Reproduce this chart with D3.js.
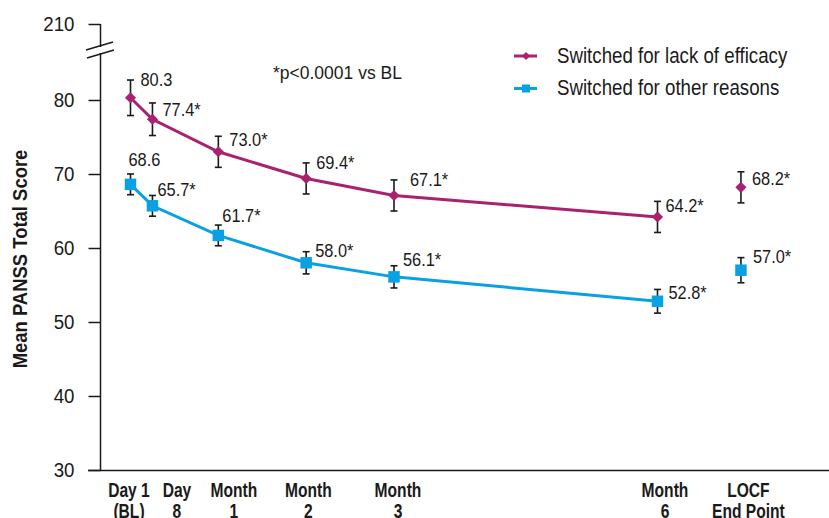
<!doctype html>
<html>
<head>
<meta charset="UTF-8">
<title>PANSS total score</title>
<script src="https://d3js.org/d3.v7.min.js"></script>
<style>
    body { margin: 0; background: #fff; }
    text { font-family: "Liberation Sans", Arial, sans-serif; fill: #1a1a1a; }
</style>
</head>
<body>
<svg width="829" height="518"></svg>
<script>
// data
var visits = [["Day 1", "(BL)"], ["Day", "8"], ["Month", "1"], ["Month", "2"], ["Month", "3"], ["Month", "6"], ["LOCF", "End Point"]];
var visitWeek = [0, 1, 4, 8, 12, 24, 27.8];
var efficacy = [80.3, 77.4, 73.0, 69.4, 67.1, 64.2, 68.2];
var efficacyErr = [2.4, 2.2, 2.1, 2.1, 2.1, 2.1, 2.1];
var other = [68.6, 65.7, 61.7, 58.0, 56.1, 52.8, 57.0];
var otherErr = [1.4, 1.4, 1.4, 1.5, 1.5, 1.6, 1.7];
var starred = [false, true, true, true, true, true, true];
var yTicks = [30, 40, 50, 60, 70, 80];
var yTopTick = [210];
var seriesNames = ["Switched for lack of efficacy", "Switched for other reasons"];

// layout
var purple = "#aa226f", blue = "#0aa1e2";
var effOff = [[10, -12], [10, -3], [11, -6], [10, -9], [16, -9], [8, -5], [11, -2]];
var othOff = [[-2, -18], [5, -10], [4, -13], [9, -6], [9, -11], [11, -2], [12, -7]];
var xLabelShift = [-1.5, 24.5, 15.6, 2.3, 4, 7.5, 7.5];

// the original uses a condensed face; squeeze Liberation Sans horizontally
function squeeze(sel, k) {
    sel.each(function () {
        var t = d3.select(this);
        var x0 = +t.attr("x") || 0, y0 = +t.attr("y") || 0;
        t.attr("transform", "translate(" + x0 + "," + y0 + ") scale(" + k + ",1) translate(" + (-x0) + "," + (-y0) + ")");
    });
}

var svg = d3.select("svg");
var x = d3.scaleLinear().domain([0, 24]).range([130.5, 657.5]);
var y = d3.scaleLinear().domain([30, 80]).range([470, 100]);
var yTop = d3.scaleLinear().domain([205, 210]).range([60, 24]);

// y axis
var gy = svg.append("g").attr("transform", "translate(100.5,0)")
    .call(d3.axisLeft(y).tickValues(yTicks).tickSize(12).tickPadding(14).tickSizeOuter(0));
gy.select(".domain").remove();
var gy2 = svg.append("g").attr("transform", "translate(100.5,0)")
    .call(d3.axisLeft(yTop).tickValues(yTopTick).tickFormat(d3.format("d")).tickSize(12).tickPadding(14).tickSizeOuter(0));
gy2.select(".domain").remove();
svg.selectAll(".tick line").attr("stroke", "#1a1a1a").attr("stroke-width", 1.5);
svg.selectAll(".tick text").style("font-size", "21px").attr("fill", "#1a1a1a")
    .style("font-family", "'Liberation Sans', Arial, sans-serif");
squeeze(svg.selectAll(".tick text"), 0.89);

// axis line with a break
svg.append("line").attr("x1", 100.5).attr("x2", 100.5).attr("y1", y(30)).attr("y2", 53)
    .attr("stroke", "#1a1a1a").attr("stroke-width", 1.5);
svg.append("line").attr("x1", 100.5).attr("x2", 100.5).attr("y1", 47).attr("y2", yTop(210))
    .attr("stroke", "#1a1a1a").attr("stroke-width", 1.5);
[[86, 50, 113, 42], [87, 58, 114, 50]].forEach(function (s) {
    svg.append("line").attr("x1", s[0]).attr("y1", s[1]).attr("x2", s[2]).attr("y2", s[3])
        .attr("stroke", "#1a1a1a").attr("stroke-width", 1.5);
});

// x axis line
svg.append("line").attr("x1", 88).attr("x2", 829).attr("y1", y(30) + 0.5).attr("y2", y(30) + 0.5)
    .attr("stroke", "#1a1a1a").attr("stroke-width", 1.5);

// x labels
visits.forEach(function (v, i) {
    var lx = x(visitWeek[i]) + xLabelShift[i];
    var t = svg.append("text").attr("text-anchor", "middle")
        .attr("x", lx).attr("y", 497)
        .style("font-size", "20px").style("font-weight", "bold");
    t.append("tspan").attr("x", lx).text(v[0]);
    t.append("tspan").attr("x", lx).attr("dy", 21).text(v[1]);
    squeeze(t, 0.78);
});

// y title
svg.append("text").attr("transform", "translate(27,259) rotate(-90) scale(0.9,1)")
    .attr("text-anchor", "middle").style("font-size", "20.5px").style("font-weight", "bold")
    .text("Mean PANSS Total Score");

// series
var series = [
    { vals: efficacy, err: efficacyErr, color: purple, off: effOff, shape: "diamond" },
    { vals: other, err: otherErr, color: blue, off: othOff, shape: "square" }
];
var line = d3.line().x(function (d, i) { return x(visitWeek[i]); }).y(function (d) { return y(d); });
var diamond = d3.symbol().type(d3.symbolSquare).size(62);
var square = d3.symbol().type(d3.symbolSquare).size(132);

series.forEach(function (s) {
    svg.append("path").datum(s.vals.slice(0, 6)).attr("d", line)
        .attr("fill", "none").attr("stroke", s.color).attr("stroke-width", 3);
    s.vals.forEach(function (v, i) {
        var cx = x(visitWeek[i]);
        var g = svg.append("g").attr("stroke", "#1a1a1a").attr("stroke-width", 1.6);
        g.append("line").attr("x1", cx).attr("x2", cx).attr("y1", y(v - s.err[i])).attr("y2", y(v + s.err[i]));
        g.append("line").attr("x1", cx - 3.5).attr("x2", cx + 3.5).attr("y1", y(v - s.err[i])).attr("y2", y(v - s.err[i]));
        g.append("line").attr("x1", cx - 3.5).attr("x2", cx + 3.5).attr("y1", y(v + s.err[i])).attr("y2", y(v + s.err[i]));
        svg.append("path")
            .attr("d", s.shape === "diamond" ? diamond() : square())
            .attr("transform", "translate(" + cx + "," + y(v) + ")" + (s.shape === "diamond" ? " rotate(45)" : ""))
            .attr("fill", s.color);
        var lab = svg.append("text").attr("x", cx + s.off[i][0]).attr("y", y(v) + s.off[i][1])
            .style("font-size", "18px").text(v.toFixed(1) + (starred[i] ? "*" : ""));
        squeeze(lab, 0.91);
    });
});

// note
svg.append("text").attr("x", 273).attr("y", 79)
    .style("font-size", "17.5px")
    .text("*p<0.0001 vs BL");

// legend
var legDiamond = d3.symbol().type(d3.symbolSquare).size(34);
var legSquare = d3.symbol().type(d3.symbolSquare).size(64);
series.forEach(function (s, i) {
    var ly = [56, 88.5][i];
    svg.append("line").attr("x1", 514).attr("x2", 537).attr("y1", ly).attr("y2", ly)
        .attr("stroke", s.color).attr("stroke-width", 3);
    svg.append("path")
        .attr("d", s.shape === "diamond" ? legDiamond() : legSquare())
        .attr("transform", "translate(526," + ly + ")" + (s.shape === "diamond" ? " rotate(45)" : ""))
        .attr("fill", s.color);
    var lt = svg.append("text").attr("x", 557).attr("y", ly + 7).style("font-size", "22px").text(seriesNames[i]);
    squeeze(lt, 0.85);
});
</script>
</body>
</html>
